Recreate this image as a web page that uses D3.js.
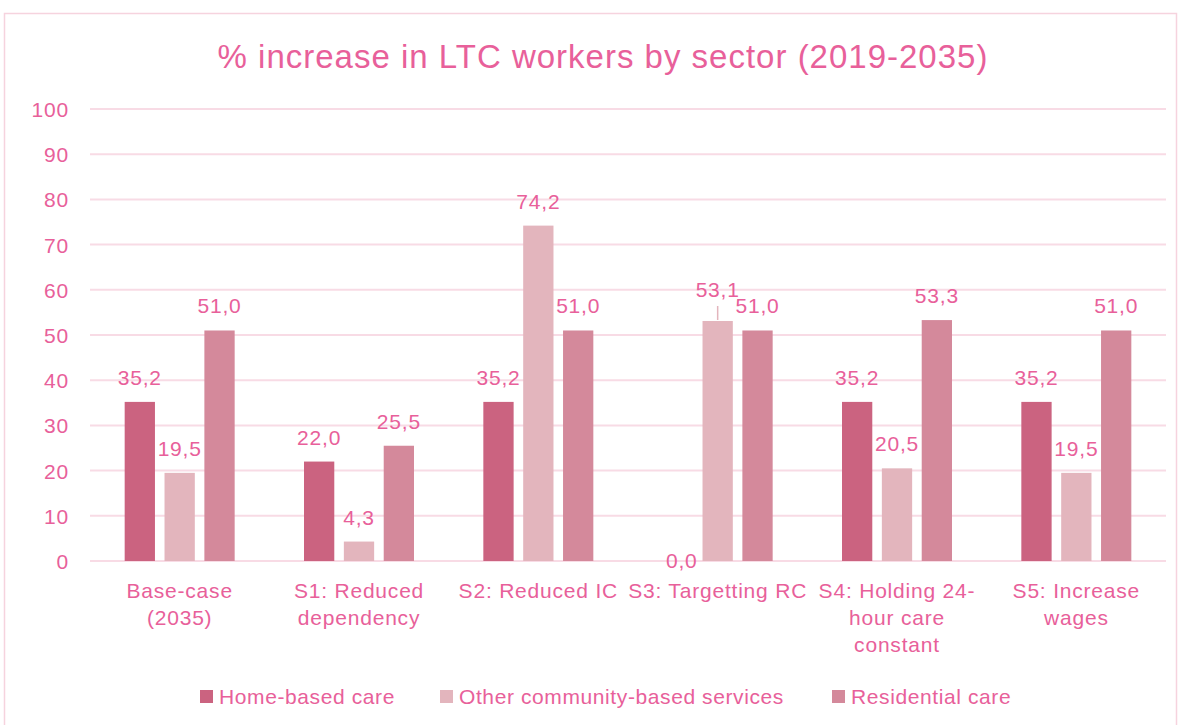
<!DOCTYPE html>
<html>
<head>
<meta charset="utf-8">
<script src="https://cdn.jsdelivr.net/npm/d3@7"></script>
<style>
  body { margin: 0; background: #fff; }
  svg { display: block; font-family: "Liberation Sans", Arial, sans-serif; }
  text { letter-spacing: 0.8px; }
</style>
</head>
<body>
<svg width="1179" height="725"></svg>
<script>
const categories = [
  ["Base-case", "(2035)"],
  ["S1: Reduced", "dependency"],
  ["S2: Reduced IC"],
  ["S3: Targetting RC"],
  ["S4: Holding 24-", "hour care", "constant"],
  ["S5: Increase", "wages"]
];
const seriesNames = ["Home-based care", "Other community-based services", "Residential care"];
const homeBased = [35.2, 22.0, 35.2, 0.0, 35.2, 35.2];
const otherCommunity = [19.5, 4.3, 74.2, 53.1, 20.5, 19.5];
const residential = [51.0, 25.5, 51.0, 51.0, 53.3, 51.0];
const yTicks = [0, 10, 20, 30, 40, 50, 60, 70, 80, 90, 100];
const colors = ["#cb6380", "#e3b5bd", "#d4899b"];

const textColor = "#e8609a";
const gridColor = "#f8dbe5";

let svg = d3.select("svg");

// outer chart border
svg.append("rect")
  .attr("x", 4.5).attr("y", 13.5)
  .attr("width", 1172).attr("height", 720)
  .attr("fill", "none")
  .attr("stroke", "#f6d3de")
  .attr("stroke-width", 1.5);

svg.append("text")
  .attr("x", 603).attr("y", 68)
  .attr("text-anchor", "middle")
  .attr("fill", textColor)
  .style("font-size", "33px")
  .style("letter-spacing", "1px")
  .text("% increase in LTC workers by sector (2019-2035)");

const x0 = d3.scaleBand()
  .domain(d3.range(categories.length))
  .range([90, 1166])
  .paddingInner(0)
  .paddingOuter(0);

const x1 = d3.scaleBand()
  .domain(d3.range(3))
  .range([x0.bandwidth() / 2 - 55, x0.bandwidth() / 2 + 55])
  .paddingInner(0.24);

const y = d3.scaleLinear().domain([0, 100]).range([561, 109]);

// grid lines + tick labels
svg.append("g")
  .selectAll("line")
  .data(yTicks)
  .join("line")
  .attr("x1", 90).attr("x2", 1166)
  .attr("y1", d => y(d)).attr("y2", d => y(d))
  .attr("stroke", gridColor)
  .attr("stroke-width", 2);

svg.append("g")
  .selectAll("text")
  .data(yTicks)
  .join("text")
  .attr("x", 69)
  .attr("y", d => y(d) + 8)
  .attr("text-anchor", "end")
  .attr("fill", textColor)
  .style("font-size", "21px")
  .text(d => d);

const series = [homeBased, otherCommunity, residential];
const fmt = v => v.toFixed(1).replace(".", ",");

let groups = svg.append("g")
  .selectAll("g")
  .data(categories.map((c, i) => i))
  .join("g")
  .attr("transform", i => `translate(${x0(i)},0)`);

groups.selectAll("rect")
  .data(i => series.map((s, k) => ({k, v: s[i], cat: i})))
  .join("rect")
  .attr("x", d => x1(d.k))
  .attr("width", x1.bandwidth())
  .attr("y", d => y(d.v))
  .attr("height", d => y(0) - y(d.v))
  .attr("fill", d => colors[d.k]);

// value labels
groups.selectAll("text.val")
  .data(i => series.map((s, k) => ({k, v: s[i], cat: i})))
  .join("text")
  .attr("class", "val")
  .attr("x", d => x1(d.k) + x1.bandwidth() / 2 + (d.cat === 3 && d.k === 0 ? 4 : 0))
  .attr("y", d => (d.cat === 3 && d.k === 1) ? y(d.v) - 24 : y(d.v) - 17 + (d.v === 0 ? 24 : 0))
  .attr("text-anchor", "middle")
  .attr("fill", textColor)
  .style("font-size", "21px")
  .text(d => fmt(d.v));

// leader line for the shifted label
groups.filter(i => i === 3)
  .append("line")
  .attr("x1", x1(1) + x1.bandwidth() / 2)
  .attr("x2", x1(1) + x1.bandwidth() / 2)
  .attr("y1", y(otherCommunity[3]) - 1)
  .attr("y2", y(otherCommunity[3]) - 15)
  .attr("stroke", colors[1])
  .attr("stroke-width", 1.5);

// category labels
groups.append("text")
  .attr("x", x0.bandwidth() / 2)
  .attr("y", 598)
  .attr("text-anchor", "middle")
  .attr("fill", textColor)
  .style("font-size", "21px")
  .selectAll("tspan")
  .data(i => categories[i])
  .join("tspan")
  .attr("x", x0.bandwidth() / 2)
  .attr("dy", (d, j) => j === 0 ? 0 : 27)
  .text(d => d);

// legend
const legendX = [200, 440, 832];
let legend = svg.append("g")
  .selectAll("g")
  .data(seriesNames)
  .join("g")
  .attr("transform", (d, i) => `translate(${legendX[i]},690)`);

legend.append("rect")
  .attr("width", 13).attr("height", 13)
  .attr("fill", (d, i) => colors[i]);

legend.append("text")
  .attr("x", 19).attr("y", 14)
  .attr("fill", textColor)
  .style("font-size", "21px")
  .style("letter-spacing", "0.6px")
  .text(d => d);
</script>
</body>
</html>
